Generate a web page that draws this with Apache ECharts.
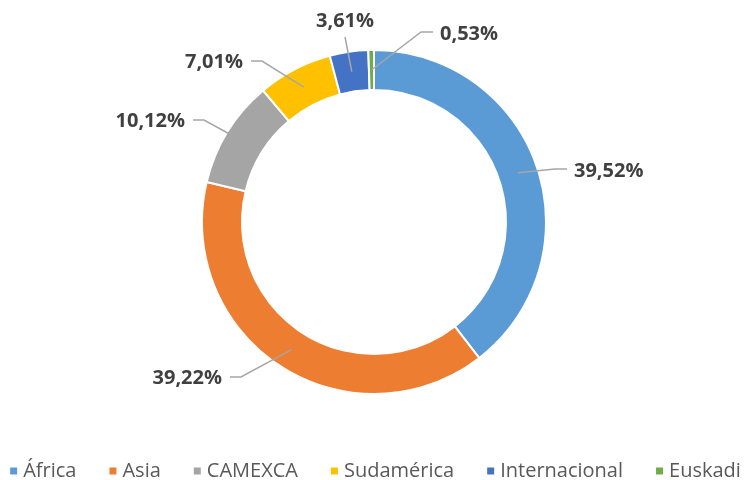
<!DOCTYPE html>
<html>
<head>
<meta charset="utf-8">
<script src="https://cdn.jsdelivr.net/npm/echarts@6/dist/echarts.min.js"></script>
<style>
  html,body{margin:0;padding:0;background:#fff;}
  #main{width:749px;height:480px;}
</style>
</head>
<body>
<div id="main"></div>
<script>
// datos del gráfico
var categorias = ['África', 'Asia', 'CAMEXCA', 'Sudamérica', 'Internacional', 'Euskadi'];
var porcentajes = [39.52, 39.22, 10.12, 7.01, 3.61, 0.53];
var colores = ['#5B9BD5', '#ED7D31', '#A5A5A5', '#FFC000', '#4472C4', '#70AD47'];

// sitio de cada etiqueta: [x, y, alineación]
var posEtiquetas = [
  [574, 171, 'left'],
  [222, 378, 'right'],
  [185, 121, 'right'],
  [243, 62, 'right'],
  [345, 21, 'center'],
  [440, 34, 'left']
];

var centro = [374, 222];
var radioMedio = 152;

var datos = categorias.map(function (c, i) {
  return {name: c, value: porcentajes[i], itemStyle: {color: colores[i]}};
});

var total = porcentajes.reduce(function (a, b) { return a + b; }, 0);

// punto en el centro del anillo, en el ángulo medio de cada porción
function puntoMedio(i) {
  var acum = 0;
  for (var k = 0; k < i; k++) acum += porcentajes[k];
  var ang = (acum + porcentajes[i] / 2) / total * Math.PI * 2;
  return [centro[0] + radioMedio * Math.sin(ang), centro[1] - radioMedio * Math.cos(ang)];
}

var fmt = function (p) {
  return p.value.toFixed(2).replace('.', ',') + '%';
};

var chart = echarts.init(document.getElementById('main'));
var option = {
  animation: false,
  legend: {
    data: categorias,
    left: 'center',
    top: 456,
    icon: 'rect',
    itemWidth: 9,
    itemHeight: 9,
    itemGap: 31,
    textStyle: {
      fontFamily: 'Open Sans',
      fontSize: 20,
      color: '#595959'
    }
  },
  series: [
    {
      // anillo
      type: 'pie',
      center: centro,
      radius: [132, 172],
      startAngle: 90,
      clockwise: true,
      silent: true,
      label: {show: false},
      labelLine: {show: false},
      itemStyle: {borderColor: '#fff', borderWidth: 2},
      data: datos
    },
    {
      // serie invisible solo para las etiquetas
      type: 'pie',
      z: 5,
      center: centro,
      radius: [0, radioMedio],
      startAngle: 90,
      clockwise: true,
      silent: true,
      itemStyle: {color: 'rgba(0,0,0,0)'},
      label: {
        show: true,
        position: 'outside',
        formatter: fmt,
        fontFamily: 'Open Sans',
        fontWeight: 'bold',
        fontSize: 20,
        color: '#404040'
      },
      labelLine: {
        show: true,
        length: 10,
        length2: 10,
        lineStyle: {color: '#A6A6A6', width: 1.5}
      },
      labelLayout: function (params) {
        var p = posEtiquetas[params.dataIndex];
        var ini = puntoMedio(params.dataIndex);
        var fin, codo;
        if (p[2] === 'left') {
          fin = [p[0] - 7, p[1] - 2];
          codo = [fin[0] - 12, fin[1]];
        } else if (p[2] === 'right') {
          fin = [p[0] + 8, p[1] - 1];
          codo = [fin[0] + 11, fin[1]];
        } else {
          fin = [p[0], p[1] + 16];
          codo = fin;
        }
        return {
          x: p[0],
          y: p[1],
          align: p[2],
          verticalAlign: 'middle',
          labelLinePoints: [ini, codo, fin]
        };
      },
      data: categorias.map(function (c, i) {
        return {name: c, value: porcentajes[i]};
      })
    }
  ]
};
chart.setOption(option);
</script>
</body>
</html>
